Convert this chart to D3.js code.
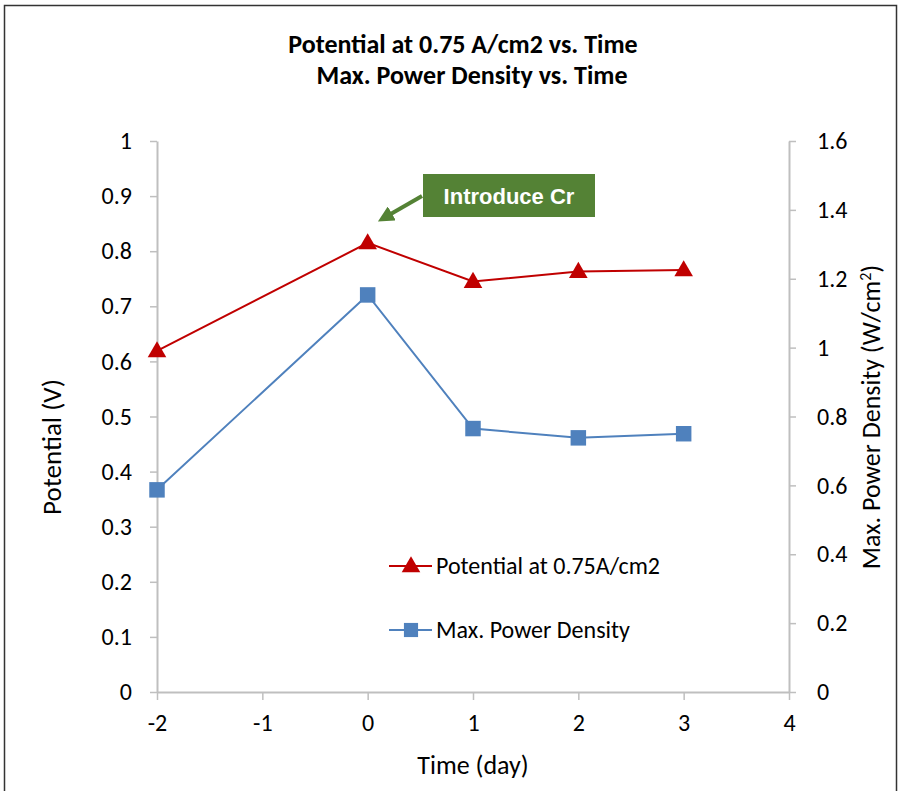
<!DOCTYPE html>
<html>
<head>
<meta charset="utf-8">
<script src="https://cdn.jsdelivr.net/npm/d3@7"></script>
<style>
  body { margin: 0; background: #fff; }
  svg text { font-family: Carlito, Calibri, Lato, "Open Sans", "Liberation Sans", sans-serif; }
</style>
</head>
<body>
<svg id="chart" width="900" height="791"></svg>
<script>
/* ── data ── */
const days = [-2, 0, 1, 2, 3];
const potential = [0.619, 0.815, 0.745, 0.763, 0.766];
const powerDensity = [0.587, 1.153, 0.765, 0.738, 0.750];
const xTicks = [-2, -1, 0, 1, 2, 3, 4];
const yLeftTicks = [0, 0.1, 0.2, 0.3, 0.4, 0.5, 0.6, 0.7, 0.8, 0.9, 1];
const yRightTicks = [0, 0.2, 0.4, 0.6, 0.8, 1, 1.2, 1.4, 1.6];

const svg = d3.select('#chart');
const axisColor = '#bfbfbf';
const red = '#c00000';
const blue = '#4f81bd';

/* outer frame */
svg.append('rect')
  .attr('x', 4.5).attr('y', 5.5)
  .attr('width', 892).attr('height', 800)
  .attr('fill', '#fff').attr('stroke', '#333').attr('stroke-width', 1.5);

const plotLeft = 157, plotRight = 789, plotTop = 141, plotBottom = 692;

const x = d3.scaleLinear().domain([-2, 4]).range([plotLeft, plotRight]);
const yL = d3.scaleLinear().domain([0, 1]).range([plotBottom, plotTop]);
const yR = d3.scaleLinear().domain([0, 1.6]).range([plotBottom, plotTop]);

function styleAxis(g) {
  g.select('.domain').attr('stroke', axisColor).attr('stroke-width', 2);
  g.selectAll('.tick line').attr('stroke', axisColor).attr('stroke-width', 1.5);
  g.selectAll('.tick text').attr('fill', '#000').style('font-size', '24px');
}

const plain = d => String(d);

/* ── axes ── */
svg.append('g')
  .attr('transform', `translate(0,${plotBottom})`)
  .call(d3.axisBottom(x).tickValues(xTicks).tickSize(8).tickSizeOuter(0).tickPadding(14)
    .tickFormat(plain))
  .call(styleAxis);

svg.append('g')
  .attr('transform', `translate(${plotLeft},0)`)
  .call(d3.axisLeft(yL).tickValues(yLeftTicks).tickSize(7).tickSizeOuter(0).tickPadding(18)
    .tickFormat(plain))
  .call(styleAxis);

svg.append('g')
  .attr('transform', `translate(${plotRight},0)`)
  .call(d3.axisRight(yR).tickValues(yRightTicks).tickSize(7).tickSizeOuter(0).tickPadding(21)
    .tickFormat(plain))
  .call(styleAxis);

/* ── titles ── */
svg.append('text')
  .attr('x', 463).attr('y', 53).attr('text-anchor', 'middle')
  .style('font-size', '26px').style('font-weight', 'bold')
  .text('Potential at 0.75 A/cm2 vs. Time');
svg.append('text')
  .attr('x', 472).attr('y', 84).attr('text-anchor', 'middle')
  .style('font-size', '26px').style('font-weight', 'bold')
  .text('Max. Power Density vs. Time');

svg.append('text')
  .attr('x', 473).attr('y', 774).attr('text-anchor', 'middle')
  .style('font-size', '26px').text('Time (day)');

svg.append('text')
  .attr('transform', 'translate(61,447) rotate(-90)')
  .attr('text-anchor', 'middle')
  .style('font-size', '27px').text('Potential (V)');

const rLabel = svg.append('text')
  .attr('transform', 'translate(880,417) rotate(-90)')
  .attr('text-anchor', 'middle')
  .style('font-size', '26px');
rLabel.append('tspan').text('Max. Power Density (W/cm');
rLabel.append('tspan').attr('dy', -9).style('font-size', '16px').text('2');
rLabel.append('tspan').attr('dy', 9).text(')');

/* ── series ── */
const ptsPot = days.map((d, i) => [x(d), yL(potential[i])]);
const ptsPow = days.map((d, i) => [x(d), yR(powerDensity[i])]);

svg.append('path')
  .attr('d', d3.line()(ptsPow))
  .attr('fill', 'none').attr('stroke', blue).attr('stroke-width', 2);
svg.append('path')
  .attr('d', d3.line()(ptsPot))
  .attr('fill', 'none').attr('stroke', red).attr('stroke-width', 2);

const tri = d3.symbol().type(d3.symbolTriangle).size(150);
const sq = d3.symbol().type(d3.symbolSquare).size(240);

svg.selectAll('path.tri')
  .data(ptsPot).join('path')
  .attr('class', 'tri')
  .attr('d', tri)
  .attr('transform', d => `translate(${d[0]},${d[1] + 1})`)
  .attr('fill', red);

svg.selectAll('path.sq')
  .data(ptsPow).join('path')
  .attr('class', 'sq')
  .attr('d', sq)
  .attr('transform', d => `translate(${d[0]},${d[1]})`)
  .attr('fill', blue);

/* ── legend ── */
const legend = [
  { label: 'Potential at 0.75A/cm2', color: red, sym: tri, y: 566 },
  { label: 'Max. Power Density', color: blue, sym: sq, y: 630 }
];
legend.forEach(l => {
  svg.append('line')
    .attr('x1', 389).attr('x2', 432).attr('y1', l.y).attr('y2', l.y)
    .attr('stroke', l.color).attr('stroke-width', 2);
  svg.append('path')
    .attr('d', l.sym === sq ? d3.symbol().type(d3.symbolSquare).size(200)() : l.sym())
    .attr('transform', `translate(411,${l.y + (l.sym === tri ? 1 : 0)})`)
    .attr('fill', l.color);
  svg.append('text')
    .attr('x', 436).attr('y', l.y + 8)
    .style('font-size', '24px').text(l.label);
});

/* ── annotation ── */
svg.append('defs').append('marker')
  .attr('id', 'arrow').attr('viewBox', '0 0 10 10')
  .attr('refX', 2).attr('refY', 5)
  .attr('markerWidth', 4).attr('markerHeight', 4)
  .attr('orient', 'auto')
  .append('path').attr('d', 'M0,0 L10,5 L0,10 Z').attr('fill', '#548235');

svg.append('line')
  .attr('x1', 422).attr('y1', 196).attr('x2', 389).attr('y2', 215)
  .attr('stroke', '#548235').attr('stroke-width', 4)
  .attr('marker-end', 'url(#arrow)');

svg.append('rect')
  .attr('x', 423).attr('y', 174).attr('width', 172).attr('height', 43)
  .attr('fill', '#548235');
svg.append('text')
  .attr('x', 509).attr('y', 204).attr('text-anchor', 'middle')
  .attr('fill', '#fff')
  .style('font-family', '"Liberation Sans", Arial, sans-serif')
  .style('font-size', '22px').style('font-weight', 'bold')
  .text('Introduce Cr');
</script>
</body>
</html>
